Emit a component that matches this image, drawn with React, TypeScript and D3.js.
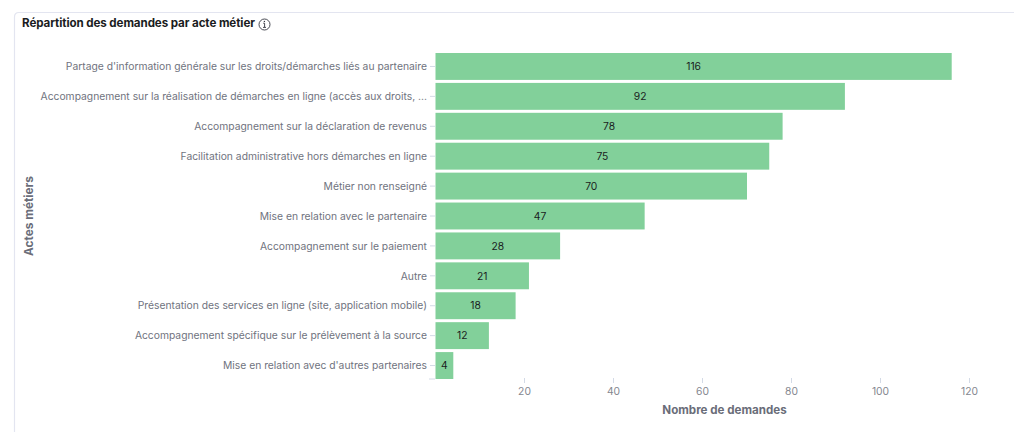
import React from "react";
import * as d3 from "d3";

const categories = [
  "Partage d'information générale sur les droits/démarches liés au partenaire",
  "Accompagnement sur la réalisation de démarches en ligne (accès aux droits, ...",
  "Accompagnement sur la déclaration de revenus",
  "Facilitation administrative hors démarches en ligne",
  "Métier non renseigné",
  "Mise en relation avec le partenaire",
  "Accompagnement sur le paiement",
  "Autre",
  "Présentation des services en ligne (site, application mobile)",
  "Accompagnement spécifique sur le prélèvement à la source",
  "Mise en relation avec d'autres partenaires",
];
const values = [116, 92, 78, 75, 70, 47, 28, 21, 18, 12, 4];
const xTicks = [20, 40, 60, 80, 100, 120];
const title = "Répartition des demandes par acte métier";
const xTitle = "Nombre de demandes";
const yTitle = "Actes métiers";

const W = 1014, H = 432;
const FONT = "Inter, 'Noto Sans', sans-serif";
const x = d3.scaleLinear().domain([0, 120]).range([435.5, 969.5]);
const y = d3.scaleBand<string>().domain(categories).range([51.5, 380.5]).paddingInner(0.1).paddingOuter(0.05);

export default function App() {
  return (
    <svg width={W} height={H} style={{ position: "fixed", left: 0, top: 0, background: "#fff" }}>
      <path d={`M14.5 ${H} V17 Q14.5 12.5 19 12.5 H${W}`} fill="none" stroke="#e3e5f0" strokeWidth={1.2} />
      <text x={22} y={27} fontFamily={FONT} fontSize={11.6} fontWeight={700} fill="#1a1c21" letterSpacing={-0.09}>{title}</text>
      <g fill="none" stroke="#343741" strokeWidth={0.9}>
        <circle cx={264.5} cy={24.5} r={5.5} />
        <path d="M263.2 23.2h1.4v4M263 27.4h3" />
      </g>
      <circle cx={264.4} cy={21.4} r={0.7} fill="#343741" />

      {categories.map((c, i) => {
        const by = y(c)!, bh = y.bandwidth(), cy = by + bh / 2;
        return (
          <g key={c}>
            <line x1={430} x2={435} y1={cy} y2={cy} stroke="#d3dae6" />
            <text x={427} y={cy + 3.7} textAnchor="end" fontFamily={FONT} fontSize={10.3} fill="#70737e" letterSpacing={0.005}>{c}</text>
            <rect x={x(0)} y={by} width={x(values[i]) - x(0)} height={bh} fill="#82d09a" />
            <text x={(x(0) + x(values[i])) / 2} y={cy + 3.7} textAnchor="middle" fontFamily={FONT} fontSize={10.3} fill="#1a1c21">{values[i]}</text>
          </g>
        );
      })}
      <line x1={429} x2={435} y1={379} y2={379} stroke="#d3dae6" />
      {xTicks.map((t) => (
        <g key={t}>
          <line x1={x(t)} x2={x(t)} y1={378} y2={383} stroke="#d3dae6" />
          <text x={x(t)} y={394.5} textAnchor="middle" fontFamily={FONT} fontSize={10.3} fill="#85878f">{t}</text>
        </g>
      ))}
      <text x={724.5} y={414} textAnchor="middle" fontFamily={FONT} fontSize={11.6} fontWeight={700} fill="#6a6d79">{xTitle}</text>
      <text transform="translate(33,216) rotate(-90)" textAnchor="middle" fontFamily={FONT} fontSize={11.8} fontWeight={700} fill="#6a6d79">{yTitle}</text>
    </svg>
  );
}
